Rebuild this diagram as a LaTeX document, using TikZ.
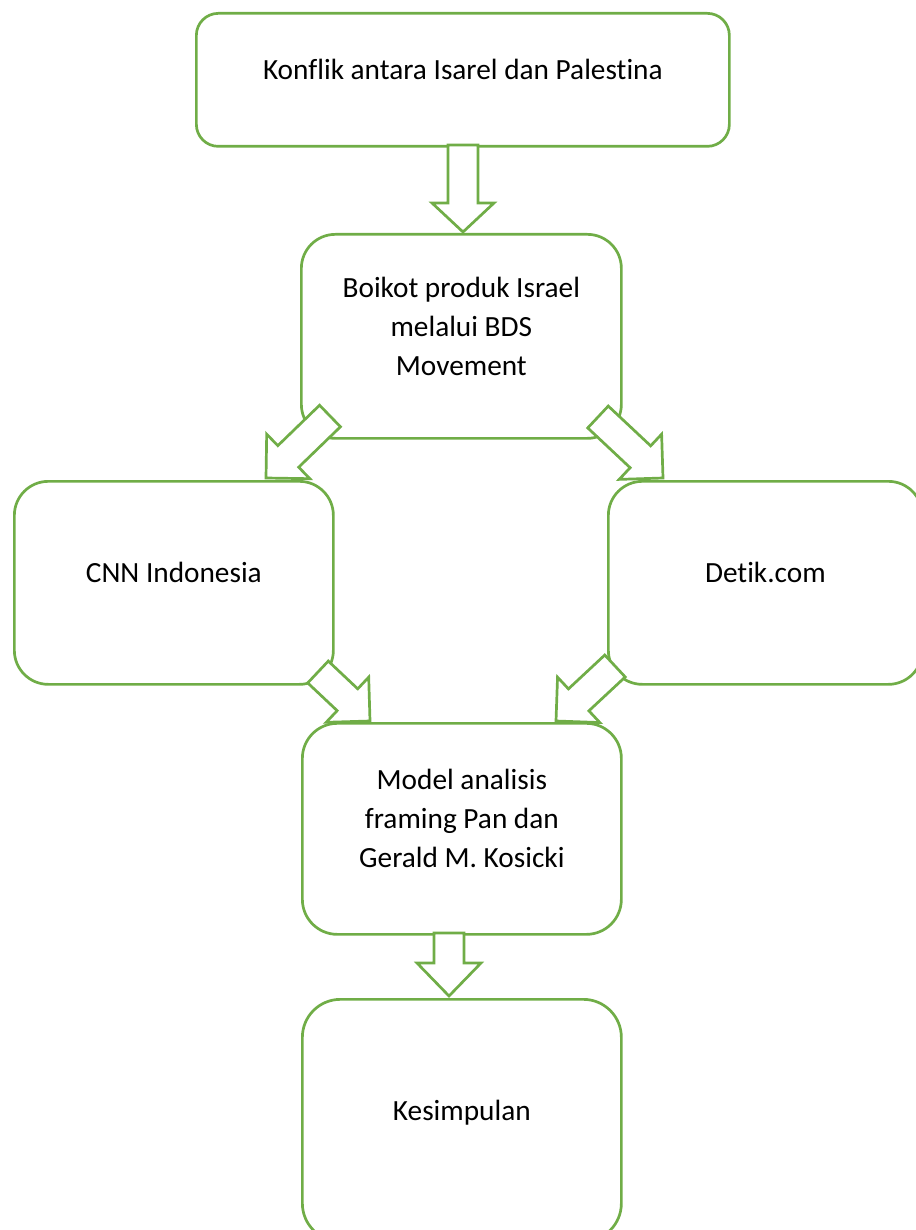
\documentclass[tikz,border=0pt]{standalone}
\usepackage{fontspec}
\setmainfont{Carlito}[Ligatures=NoCommon]
\usetikzlibrary{calc}
\definecolor{grn}{HTML}{70AD47}
\newcommand\blkarrow[4]{% #1 start, #2 tip, #3 head length, #4 head half width
  \coordinate (hb) at ($(#2)!#3!(#1)$);
  \filldraw[arw] ($(#1)!15pt!90:(#2)$) -- ($(hb)!15pt!90:(#2)$) -- ($(hb)!#4!90:(#2)$)
    -- (#2) -- ($(hb)!#4!-90:(#2)$) -- ($(hb)!15pt!-90:(#2)$) -- ($(#1)!15pt!-90:(#2)$) -- cycle;
}
\begin{document}
\begin{tikzpicture}[x=1pt,y=-1pt,
  box/.style={draw=grn,line width=2.7pt,inner sep=0pt,anchor=north west},
  txt/.style={font=\fontsize{29.3}{39}\selectfont,align=center,inner sep=0pt},
  arw/.style={fill=white,draw=grn,line width=2.7pt,line join=miter}]
\useasboundingbox (0,0) rectangle (915,1230);
% boxes
\node[box,rounded corners=22pt,minimum width=533pt,minimum height=133pt] (b1) at (195,12) {};
\node[box,rounded corners=34pt,minimum width=320pt,minimum height=204pt] (b2) at (300,233) {};
\node[box,rounded corners=34pt,minimum width=319pt,minimum height=203pt] (b3) at (13,480) {};
\node[box,rounded corners=34pt,minimum width=314pt,minimum height=203pt] (b4) at (607,480) {};
\node[box,rounded corners=35pt,minimum width=319pt,minimum height=211pt] (b5) at (301,722) {};
\node[box,rounded corners=38pt,minimum width=319pt,minimum height=242pt] (b6) at (301,998) {};
% texts
\node[txt] (t1) at ([yshift=7.8pt]b1.center) {\strut Konflik antara Isarel dan Palestina};
\node[txt] (t2) at ([yshift=7.8pt]b2.center) {\strut Boikot produk Israel\\\strut melalui BDS\\\strut Movement};
\node[txt] (t3) at ([yshift=7.8pt]b3.center) {\strut CNN Indonesia};
\node[txt] (t4) at ([yshift=7.8pt]b4.center) {\strut Detik.com};
\node[txt] (t5) at ([yshift=7.8pt]b5.center) {\strut Model analisis\\\strut framing Pan dan\\\strut Gerald M. Kosicki};
\node[txt] (t6) at ([yshift=7.8pt]b6.center) {\strut Kesimpulan};
% arrow end points
\coordinate (s1) at (463,145);   \coordinate (e1) at (463,232);
\coordinate (s2) at (330,416);   \coordinate (e2) at (266,478);
\coordinate (s3) at (598,417);   \coordinate (e3) at (663,478);
\coordinate (s4) at (318,672);   \coordinate (e4) at (370,721);
\coordinate (s5) at (615,666);   \coordinate (e5) at (556,721);
\coordinate (s6) at (449,933);   \coordinate (e6) at (449,996);
\blkarrow{s1}{e1}{29pt}{31pt}
\blkarrow{s2}{e2}{31pt}{31pt}
\blkarrow{s3}{e3}{31pt}{31pt}
\blkarrow{s4}{e4}{31pt}{31pt}
\blkarrow{s5}{e5}{31pt}{31pt}
\blkarrow{s6}{e6}{33pt}{32pt}
\end{tikzpicture}
\end{document}
